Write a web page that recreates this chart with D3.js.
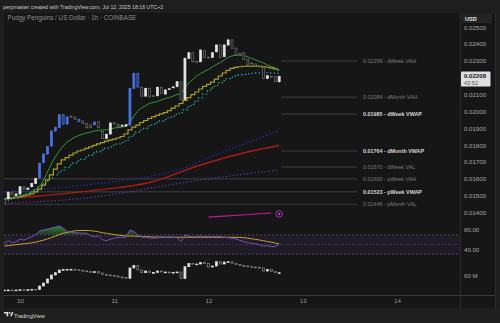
<!DOCTYPE html>
<html><head><meta charset="utf-8">
<script src="https://cdn.jsdelivr.net/npm/d3@7"></script>
<style>html,body{margin:0;padding:0;background:#1e1e1e;overflow:hidden}text{font-family:"Liberation Sans",Arial,sans-serif}</style>
</head><body><svg id="c" width="500" height="323"></svg>
<script>
// ---------- DATA ----------
const firstCandle = Date.UTC(2025, 6, 9, 20); // 1h candles
const candles = [ // [open, high, low, close]
[0.01478,0.01482,0.01448,0.01450],[0.01482,0.01524,0.01478,0.01520],[0.01520,0.01524,0.01500,0.01504],[0.01502,0.01514,0.01498,0.01510],
[0.01510,0.01556,0.01506,0.01553],[0.01551,0.01556,0.01534,0.01538],[0.01538,0.01549,0.01535,0.01545],[0.01553,0.01576,0.01549,0.01573],
[0.01573,0.01605,0.01570,0.01601],[0.01605,0.01696,0.01600,0.01692],[0.01696,0.01750,0.01690,0.01747],[0.01747,0.01795,0.01742,0.01791],
[0.01795,0.01888,0.01790,0.01884],[0.01884,0.01910,0.01878,0.01904],[0.01904,0.01985,0.01900,0.01980],[0.01980,0.01984,0.01920,0.01925],
[0.01925,0.01970,0.01920,0.01967],[0.01971,0.01975,0.01964,0.01969],[0.01965,0.01968,0.01950,0.01953],[0.01953,0.01956,0.01936,0.01939],
[0.01943,0.01946,0.01926,0.01929],[0.01929,0.01932,0.01900,0.01903],[0.01919,0.01922,0.01900,0.01903],[0.01921,0.01940,0.01918,0.01937],
[0.01939,0.01942,0.01900,0.01903],[0.01880,0.01883,0.01836,0.01840],[0.01840,0.01868,0.01836,0.01864],[0.01866,0.01935,0.01862,0.01931],
[0.01933,0.01936,0.01922,0.01925],[0.01923,0.01926,0.01906,0.01909],[0.01913,0.01921,0.01910,0.01918],[0.01913,0.01924,0.01910,0.01921],
[0.01919,0.02140,0.01915,0.02137],[0.02137,0.02230,0.02132,0.02226],[0.02226,0.02230,0.02140,0.02145],[0.02143,0.02147,0.02087,0.02091],
[0.02091,0.02140,0.02087,0.02137],[0.02137,0.02141,0.02083,0.02087],[0.02093,0.02096,0.02087,0.02090],[0.02093,0.02147,0.02089,0.02143],
[0.02143,0.02146,0.02103,0.02107],[0.02103,0.02131,0.02100,0.02127],[0.02131,0.02138,0.02128,0.02134],[0.02141,0.02149,0.02138,0.02145],
[0.02147,0.02180,0.02143,0.02176],[0.02176,0.02180,0.02068,0.02072],[0.02072,0.02320,0.02068,0.02315],[0.02315,0.02352,0.02311,0.02348],
[0.02348,0.02352,0.02291,0.02295],[0.02297,0.02300,0.02290,0.02293],[0.02295,0.02368,0.02291,0.02364],[0.02360,0.02364,0.02317,0.02321],
[0.02322,0.02326,0.02315,0.02319],[0.02321,0.02352,0.02318,0.02348],[0.02354,0.02398,0.02350,0.02394],[0.02394,0.02398,0.02317,0.02321],
[0.02325,0.02398,0.02321,0.02394],[0.02394,0.02430,0.02390,0.02424],[0.02424,0.02428,0.02371,0.02375],[0.02375,0.02379,0.02331,0.02335],
[0.02345,0.02348,0.02332,0.02335],[0.02348,0.02352,0.02305,0.02309],[0.02309,0.02313,0.02276,0.02280],[0.02287,0.02290,0.02281,0.02284],
[0.02281,0.02284,0.02266,0.02269],[0.02269,0.02272,0.02263,0.02266],[0.02262,0.02266,0.02192,0.02196],[0.02196,0.02216,0.02192,0.02212],
[0.02208,0.02212,0.02203,0.02206],[0.02206,0.02210,0.02172,0.02176],[0.02176,0.02212,0.02172,0.02208]
];
const blueBars = [9,10,11,12,13,14,15,16,19,23,32,33,34];
const emaGreen = [0.01483,0.01486,0.01489,0.01492,0.01498,0.01504,0.0151,0.01522,0.01539,0.01557,0.01593,0.0164,0.01688,0.01729,0.01765,0.01795,0.01818,0.01833,0.01848,0.01857,0.01866,0.01872,0.01878,0.01884,0.01887,0.0189,0.0189,0.01896,0.01901,0.01904,0.01907,0.01913,0.01937,0.01973,0.02002,0.0202,0.02035,0.02047,0.02053,0.02059,0.02068,0.02077,0.02082,0.02091,0.021,0.02106,0.02139,0.02169,0.02189,0.0221,0.02225,0.02237,0.02249,0.02264,0.02278,0.0229,0.02305,0.0232,0.02329,0.02333,0.02335,0.02332,0.02323,0.02314,0.02305,0.02296,0.02287,0.02275,0.02266,0.02258,0.02246];
const stepYellow = [0.0148,0.01483,0.01486,0.01492,0.01495,0.01498,0.01504,0.0151,0.01522,0.01539,0.01563,0.01593,0.01623,0.01658,0.01688,0.01712,0.01726,0.01741,0.01753,0.01765,0.01771,0.0178,0.01789,0.01798,0.01807,0.01815,0.01824,0.0183,0.01836,0.01842,0.01851,0.01866,0.0189,0.01907,0.01919,0.01934,0.01946,0.01958,0.01967,0.01976,0.01985,0.01993,0.02005,0.0202,0.02032,0.02047,0.02065,0.02082,0.021,0.02115,0.02133,0.02148,0.0216,0.02174,0.02192,0.0221,0.02228,0.02243,0.02255,0.02261,0.02265,0.02268,0.02269,0.02269,0.02269,0.02268,0.02265,0.02262,0.02258,0.02252,0.02246];
const stepTeal = [0.01471,0.01474,0.0148,0.01486,0.01492,0.01501,0.0151,0.01522,0.01534,0.01551,0.01569,0.01587,0.01605,0.01623,0.01637,0.01652,0.01667,0.01682,0.01694,0.01706,0.01717,0.01729,0.01741,0.01753,0.01762,0.01771,0.0178,0.01789,0.01798,0.01807,0.01815,0.01824,0.01845,0.01863,0.01878,0.0189,0.01901,0.01913,0.01925,0.01934,0.01943,0.01952,0.01961,0.0197,0.01982,0.01993,0.02008,0.02026,0.02041,0.02062,0.02082,0.02103,0.02121,0.02139,0.02154,0.02169,0.02183,0.02195,0.02204,0.0221,0.02216,0.0222,0.02223,0.02226,0.02228,0.02229,0.0223,0.0223,0.02228,0.02227,0.02226];
const vwapBlue = [[0,0.01522],[24,0.01572],[37,0.01614],[46,0.01664],[50,0.01706],[57,0.01771],[70,0.01884]];
const vwapRed = [[0,0.0148],[24,0.01534],[37,0.01578],[50,0.01682],[63,0.01765],[70,0.01798]];
const vwapPurple = [[0,0.01456],[24,0.01495],[37,0.01544],[50,0.01593],[70,0.01652]];
const levelPrices = [0.02299,0.02084,0.01985,0.01764,0.01670,0.01600,0.01523,0.01448];
const levelNames = ["dWeek VAH","dMonth VAH","dWeek VWAP","dMonth VWAP","dWeek VAL","pWeek VAH","pWeek VWAP","pMonth VAL"];
const divLine = [[52,0.01373],[68,0.01397]];
const divMark = [70,0.01391];
const rsi = [52.5,57.8,53.7,56,60.7,59,62.8,66,70.5,78.6,80,82,84,86,88.3,84,77,76,74.4,74,73.5,73.2,68,66,67.6,60,57.8,60.7,62.8,64.9,64.9,64.9,80,77,69.6,65.5,64.9,63.5,62.8,63.8,64.9,64.9,64.9,64.9,64,55.8,69.6,67,66,66.5,67.6,66.5,67,66.1,66.5,66.1,65,64,62.8,61.5,58.5,55.8,53.7,52.5,51,49.5,46.9,47.5,46,45.4,50.4];
const rsiMa = [46.9,47.8,48.7,49.7,50.6,51.5,52.4,53.3,55,57,59,61.5,64.5,67.5,70.5,73.2,75,76.8,78.3,78.8,79,79,78.6,77.5,76.2,74.5,73.2,71.8,70.5,69.5,68.5,67.6,67.5,67.3,67,66.5,66.1,65.9,65.7,65.5,65.3,65.2,65.1,65,64.9,64.9,64.9,65,65,65,65,65,65,65,64.9,64.9,64.9,64.9,64.9,64.8,64.6,64,63,61.8,60.5,59.3,57.8,56.2,54.6,52.8,51];
const obv = [31.4,31.4,30.8,31.4,32,31.4,32,32.8,32.4,39.4,45.4,53.4,61.4,66,71.4,72.4,72.8,72.8,72,70.8,69.4,68.4,67.4,68,65.4,62.4,61.4,60.4,59.4,57.4,56.4,54.8,75.4,80.4,71.4,66,69.4,66.4,66.4,69.4,67.4,67.4,66.8,66.8,67.4,54.4,78,84.4,82.8,83.4,86.4,84.4,77.4,79.4,88,83.4,87.4,88,84.8,82.4,80.4,79.4,78,77.4,76.8,75.4,69.4,72.4,68.4,66,66];
const priceTicks = [0.014,0.015,0.016,0.017,0.018,0.019,0.020,0.021,0.023,0.024,0.025];
const rsiTicks = [80,40];
const obvTicks = [60];
const dayTicks = [10,11,12,13,14];
const lastPrice = "0.02208", countdown = "43:52";

// ---------- SCALES ----------
const svg = d3.select("#c");
const tAt = i => new Date(firstCandle + i * 3600e3);
const x = d3.scaleUtc().domain([Date.UTC(2025,6,10), Date.UTC(2025,6,14)]).range([20, 397]);
const xi = i => x(tAt(i));
const y = d3.scaleLinear().domain([0.014, 0.025]).range([212.5, 27.15]);
const yR = d3.scaleLinear().domain([30, 80]).range([254.15, 230]);
const yV = d3.scaleLinear().domain([20, 100]).range([295.7, 255.7]);

// ---------- FRAME ----------
svg.append("rect").attr("width",500).attr("height",323).attr("fill","#1e1e1e");
svg.append("rect").attr("x",4).attr("y",13).attr("width",491).attr("height",295).attr("fill","#161616");
svg.append("text").attr("x",3).attr("y",8.6).attr("font-size",5.2).attr("fill","#c9c9c9")
  .text("perpmaster created with TradingView.com, Jul 12, 2025 18:16 UTC+2");
svg.append("line").attr("x1",460.5).attr("x2",460.5).attr("y1",13).attr("y2",308).attr("stroke","#2c2c2c");
svg.append("line").attr("x1",495.5).attr("x2",495.5).attr("y1",13).attr("y2",308).attr("stroke","#2c2c2c");
svg.append("line").attr("x1",4).attr("x2",495).attr("y1",295.5).attr("y2",295.5).attr("stroke","#3a3a3a");
svg.append("rect").attr("x",0).attr("y",308).attr("width",500).attr("height",15).attr("fill","#1f1f1f");

svg.append("defs").append("clipPath").attr("id","plot").append("rect")
  .attr("x",4).attr("y",13).attr("width",456).attr("height",282);
const g = svg.append("g").attr("clip-path","url(#plot)");

svg.append("text").attr("x",7.5).attr("y",20.2).attr("font-size",6.3).attr("fill","#8e8e8e")
  .text("Pudgy Penguins / US Dollar · 1h · COINBASE");

// ---------- LEVELS ----------
levelPrices.forEach((p, k) => {
  const name = levelNames[k];
  const prev = name.startsWith("p");
  const bright = name.includes("VWAP");
  g.append("line").attr("x1", prev ? 4 : xi(candles.length - 1) + 2).attr("x2", 357)
    .attr("y1", y(p)).attr("y2", y(p)).attr("stroke", "#323232").attr("stroke-width", 1.4);
  svg.append("text").attr("x", 363).attr("y", y(p)).attr("dy", "0.35em").attr("font-size", 5.4)
    .attr("fill", bright ? "#d6d6d6" : "#7c7c7c").attr("font-weight", bright ? "bold" : "normal")
    .text(d3.format(".5f")(p) + " - " + name);
});

// ---------- INDICATOR LINES ----------
const idx = d3.range(candles.length);
const ptLine = d3.line().x(d => xi(d[0])).y(d => y(d[1])).curve(d3.curveMonotoneX);
g.append("path").attr("d", ptLine(vwapPurple)).attr("fill","none").attr("stroke","#6a36b8").attr("stroke-width",1.2).attr("stroke-dasharray","1.3,2.3");
g.append("path").attr("d", ptLine(vwapRed)).attr("fill","none").attr("stroke","#a81c1c").attr("stroke-width",1.4);
g.append("path").attr("d", ptLine(vwapBlue)).attr("fill","none").attr("stroke","#2a2ad6").attr("stroke-width",1.2).attr("stroke-dasharray","1.3,2.3");
g.append("path").attr("d", d3.line().x(i => xi(i)).y(i => y(stepTeal[i])).curve(d3.curveStep)(idx))
  .attr("fill","none").attr("stroke","#1eb3ae").attr("stroke-width",1.3).attr("stroke-dasharray","1.3,2.6");
g.append("path").attr("d", d3.line().x(i => xi(i)).y(i => y(stepYellow[i])).curve(d3.curveStep)(idx))
  .attr("fill","none").attr("stroke","#a6a12b").attr("stroke-width",1.2);
g.append("path").attr("d", d3.line().x(i => xi(i)).y(i => y(emaGreen[i])).curve(d3.curveMonotoneX)(idx))
  .attr("fill","none").attr("stroke","#2f9a3c").attr("stroke-width",1);

// ---------- CANDLES ----------
const bw = 2.7;
candles.forEach(([o,h,l,c], i) => {
  const up = c >= o, blue = blueBars.includes(i);
  const edge = blue ? "#4a72e6" : (up ? "#e4e4e4" : "#6e6e6e");
  const fill = blue ? (up ? "#4a72e6" : "#263a78") : (up ? "#e4e4e4" : "#161616");
  const cx = xi(i);
  g.append("line").attr("x1",cx).attr("x2",cx).attr("y1",y(h)).attr("y2",y(l)).attr("stroke",edge).attr("stroke-width",0.7);
  const top = y(Math.max(o,c)), bot = y(Math.min(o,c));
  g.append("rect").attr("x",cx - bw/2 + 0.35).attr("y",top).attr("width",bw - 0.7)
    .attr("height",Math.max(0.8, bot - top)).attr("fill",fill).attr("stroke",edge).attr("stroke-width",0.7);
});

// divergence-style marker line
g.append("path").attr("d", d3.line().x(d => xi(d[0])).y(d => y(d[1]))(divLine)).attr("stroke","#c2189a").attr("stroke-width",1.2).attr("fill","none");
g.append("circle").attr("cx", xi(divMark[0])).attr("cy", y(divMark[1])).attr("r",3.3).attr("fill","#2a1430").attr("stroke","#a52fc4").attr("stroke-width",0.9);
g.append("circle").attr("cx", xi(divMark[0])).attr("cy", y(divMark[1])).attr("r",0.9).attr("fill","#c060dc");

// ---------- RSI PANE ----------
g.append("rect").attr("x",4).attr("width",456).attr("y",yR(70)).attr("height",yR(30)-yR(70)).attr("fill","#7e57c2").attr("fill-opacity",0.1);
[[70,"2,2"],[50,"1,2"],[30,"2,2"]].forEach(([v,da]) => g.append("line").attr("x1",4).attr("x2",460).attr("y1",yR(v)).attr("y2",yR(v))
  .attr("stroke","#5a5270").attr("stroke-width",0.8).attr("stroke-dasharray",da));
const grad = svg.select("defs").append("linearGradient").attr("id","ob").attr("x1",0).attr("x2",0).attr("gradientUnits","userSpaceOnUse");
grad.attr("y1", yR(90)).attr("y2", yR(70));
grad.append("stop").attr("offset",0).attr("stop-color","#3fa046").attr("stop-opacity",0.85);
grad.append("stop").attr("offset",1).attr("stop-color","#2e7d32").attr("stop-opacity",0.35);
g.append("path").attr("d", d3.area().x(i => xi(i)).y0(yR(70)).y1(i => yR(Math.max(70, rsi[i])))(idx)).attr("fill","url(#ob)");
g.append("path").attr("d", d3.line().x(i => xi(i)).y(i => yR(rsiMa[i]))(idx)).attr("fill","none").attr("stroke","#c9a32a").attr("stroke-width",1);
g.append("path").attr("d", d3.line().x(i => xi(i)).y(i => yR(rsi[i]))(idx)).attr("fill","none").attr("stroke","#7150c0").attr("stroke-width",1);

// ---------- OBV-STYLE CANDLES ----------
obv.forEach((v, i) => {
  const o = i ? obv[i-1] : v, up = v >= o;
  const top = yV(Math.max(o, v)), bot = yV(Math.min(o, v));
  const cx = xi(i);
  g.append("rect").attr("x",cx - bw/2 + 0.35).attr("y",top).attr("width",bw - 0.7).attr("height",Math.max(0.8, bot - top))
    .attr("fill", up ? "#e4e4e4" : "#161616").attr("stroke", up ? "#e4e4e4" : "#8a8a8a").attr("stroke-width",0.7);
});

// ---------- AXES ----------
const fmtP = d3.format(".5f");
const pAx = svg.append("g").attr("transform","translate(462,0)")
  .call(d3.axisRight(y).tickValues(priceTicks).tickFormat(fmtP).tickSize(0).tickPadding(2));
const rAx = svg.append("g").attr("transform","translate(462,0)")
  .call(d3.axisRight(yR).tickValues(rsiTicks).tickFormat(d3.format(".2f")).tickSize(0).tickPadding(2));
const vAx = svg.append("g").attr("transform","translate(462,0)")
  .call(d3.axisRight(yV).tickValues(obvTicks).tickFormat(d => d + " M").tickSize(0).tickPadding(2));
const tAx = svg.append("g").attr("transform","translate(0,296)")
  .call(d3.axisBottom(x).tickValues(dayTicks.map(d => new Date(Date.UTC(2025,6,d)))).tickFormat(d3.utcFormat("%-d")).tickSize(0).tickPadding(3));
[pAx, rAx, vAx, tAx].forEach(a => {
  a.select(".domain").remove();
  a.selectAll("text").attr("font-size",6.1).attr("fill","#a9a9a9").attr("font-family","Liberation Sans, Arial, sans-serif");
});
tAx.selectAll("text").attr("fill","#9d9d9d");

// USD badge
svg.append("rect").attr("x",462).attr("y",13.5).attr("width",30).attr("height",9.5).attr("fill","#242424");
svg.append("text").attr("x",465).attr("y",20.6).attr("font-size",5.6).attr("font-weight","bold").attr("fill","#e8e8e8").text("USD");
// last price badge
const lp = y(+lastPrice);
svg.append("rect").attr("x",461).attr("y",lp - 4.8).attr("width",29.5).attr("height",15).attr("fill","#dedede").attr("rx",1);
svg.append("text").attr("x",464).attr("y",lp + 1.6).attr("font-size",6.1).attr("font-weight","bold").attr("fill","#151515").text(lastPrice);
svg.append("text").attr("x",464).attr("y",lp + 8.4).attr("font-size",5.6).attr("fill","#555").text(countdown);

// ---------- FOOTER ----------
const logo = svg.append("g").attr("transform","translate(4,312)").attr("fill","#e0e0e0");
logo.append("path").attr("d","M0,0 H4.2 V4.2 H2.6 V1.6 H0 Z");
logo.append("circle").attr("cx",5.6).attr("cy",0.9).attr("r",0.9);
logo.append("path").attr("d","M6.2,4.2 L7.8,0 H9.4 L7.8,4.2 Z");
svg.append("text").attr("x",14).attr("y",318).attr("font-size",5.6).attr("fill","#dcdcdc").text("TradingView");
</script></body></html>
